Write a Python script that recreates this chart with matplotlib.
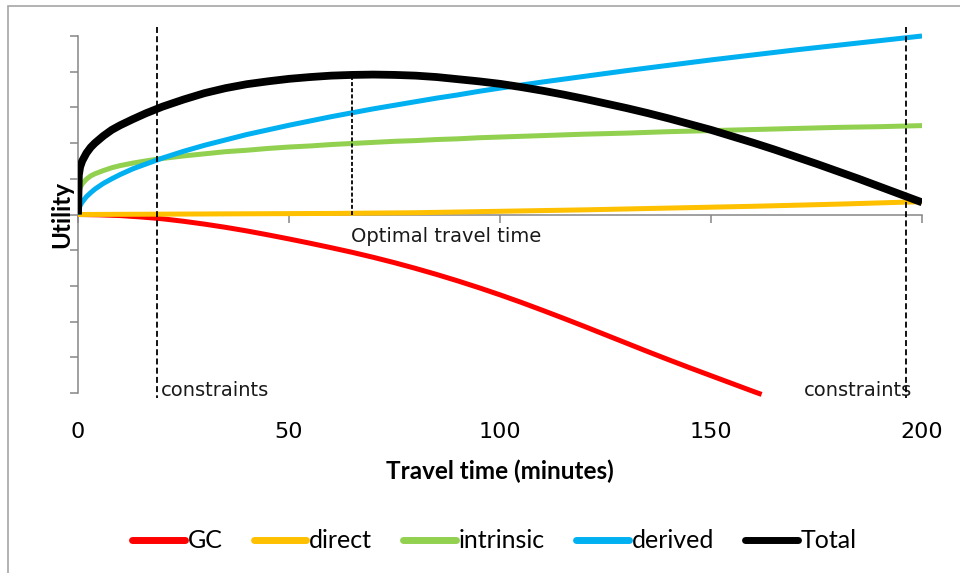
import numpy as np
import matplotlib
matplotlib.use("Agg")
import matplotlib.pyplot as plt
from matplotlib.patches import Rectangle

# values
x_gc = [0, 5, 10, 15, 20, 25, 30, 35, 40, 45, 50, 55, 60, 65, 70, 75, 80, 85, 90,
        95, 100, 105, 110, 115, 120, 125, 130, 135, 140, 145, 150, 155, 160, 162]
gc = [0, -0.01, -0.03, -0.07, -0.12, -0.19, -0.27, -0.36, -0.46, -0.57, -0.685,
      -0.805, -0.93, -1.06, -1.2, -1.35, -1.51, -1.68, -1.86, -2.05, -2.25, -2.46,
      -2.68, -2.905, -3.135, -3.37, -3.605, -3.84, -4.07, -4.295, -4.515, -4.735,
      -4.955, -5.04]

x_direct = [0, 20, 40, 60, 80, 100, 120, 140, 160, 180, 200]
direct = [0, 0.01, 0.02, 0.03, 0.05, 0.09, 0.13, 0.18, 0.23, 0.29, 0.36]

x_curve = [0, 0.2, 0.5, 1, 2, 3, 4, 6, 8, 10, 13, 16, 20, 25, 30, 35, 40, 45, 50,
           55, 60, 65, 70, 75, 80, 85, 90, 95, 100, 110, 120, 130, 140, 150, 160,
           170, 180, 190, 200]
intrinsic = [0, 0.63, 0.75, 0.86, 0.99, 1.08, 1.14, 1.23, 1.31, 1.37, 1.44, 1.50,
             1.57, 1.64, 1.70, 1.76, 1.80, 1.85, 1.89, 1.92, 1.96, 1.99, 2.02, 2.05,
             2.07, 2.10, 2.12, 2.15, 2.17, 2.21, 2.25, 2.28, 2.32, 2.35, 2.38, 2.41,
             2.44, 2.46, 2.49]
derived = [0, 0.16, 0.25, 0.35, 0.5, 0.61, 0.71, 0.87, 1.0, 1.12, 1.28, 1.41, 1.58,
           1.77, 1.94, 2.09, 2.24, 2.37, 2.5, 2.62, 2.74, 2.85, 2.96, 3.06, 3.16,
           3.26, 3.35, 3.45, 3.54, 3.71, 3.87, 4.03, 4.18, 4.33, 4.47, 4.61, 4.74,
           4.87, 5.0]

x_total = [0, 0.2, 0.5, 1, 2, 3, 4, 6, 8, 10, 13, 16, 20, 25, 30, 35, 40, 45, 50,
           55, 60, 65, 70, 75, 80, 85, 90, 95, 100, 105, 110, 115, 120, 125, 130,
           135, 140, 145, 150, 155, 160, 165, 170, 175, 180, 185, 190, 195, 200]
total = [0, 1.1, 1.33, 1.5, 1.72, 1.88, 2.0, 2.2, 2.37, 2.5, 2.67, 2.83, 3.02,
         3.22, 3.4, 3.54, 3.65, 3.73, 3.8, 3.85, 3.89, 3.91, 3.92, 3.91, 3.89,
         3.85, 3.79, 3.73, 3.66, 3.57, 3.47, 3.36, 3.24, 3.11, 2.98, 2.84, 2.69,
         2.53, 2.37, 2.19, 2.01, 1.82, 1.62, 1.42, 1.21, 1.0, 0.78, 0.56, 0.34]

constraint_left = 18.7
constraint_right = 196.2
optimal_time = 64.9
optimal_utility = 3.91

x_ticks = [0, 50, 100, 150, 200]
y_ticks = [-5, -4, -3, -2, -1, 0, 1, 2, 3, 4, 5]

fig = plt.figure(figsize=(9.6, 5.73), dpi=100)
ax = fig.add_axes([78 / 960, 1 - 410.85 / 573, 844 / 960, 11 * 35.7 / 573])
ax.set_xlim(0, 200)
ax.set_ylim(-5.5, 5.5)

# outer chart border (cut off at right and bottom)
fig.patches.append(Rectangle((8 / 960, -0.1), 1.2, 1 - 6 / 573 + 0.1,
                             transform=fig.transFigure, fill=False,
                             edgecolor="#a6a6a6", linewidth=1.2))

lw = 3.6
style = dict(solid_capstyle="butt", solid_joinstyle="round")
ax.plot(x_gc, gc, color="#ff0000", lw=lw, label="GC", zorder=3, **style)
ax.plot(x_direct, direct, color="#ffc000", lw=lw, label="direct", zorder=3, **style)
ax.plot(x_curve, intrinsic, color="#92d050", lw=lw, label="intrinsic", zorder=3, **style)
ax.plot(x_curve, derived, color="#00b0f0", lw=lw, label="derived", zorder=3, **style)
ax.plot(x_total, total, color="black", lw=5.6, label="Total", zorder=4, **style)

# dashed guide lines
for xc in [constraint_left, constraint_right]:
    ax.plot([xc, xc], [5.24, -5.15], color="black", lw=1.3,
            linestyle=(0, (3.3, 1.8)), zorder=6, clip_on=False)
ax.plot([optimal_time, optimal_time], [0, optimal_utility], color="black", lw=1.3,
        linestyle=(0, (2.2, 1.2)), zorder=6)

ax.text(optimal_time - 0.3, -0.62, "Optimal travel time", fontsize=14,
        ha="left", va="center", color="#1a1a1a")
ax.text(constraint_left + 1.0, -4.93, "constraints", fontsize=14,
        ha="left", va="center", color="#1a1a1a")
ax.text(constraint_right + 1.5, -4.93, "constraints", fontsize=14,
        ha="right", va="center", color="#1a1a1a")

# axes styling
for s in ["top", "right"]:
    ax.spines[s].set_visible(False)
ax.spines["left"].set_bounds(-5, 5)
ax.spines["bottom"].set_position(("data", 0))
for s in ["left", "bottom"]:
    ax.spines[s].set_color("#868686")
    ax.spines[s].set_linewidth(1.1)
ax.set_xticks(x_ticks)
ax.set_yticks(y_ticks)
ax.set_xticklabels([])
ax.set_yticklabels([])
ax.tick_params(axis="both", direction="out", length=6, width=1.1, color="#868686")

for xt in x_ticks:
    ax.text(xt, -0.055, str(xt), transform=ax.get_xaxis_transform(),
            fontsize=16, ha="center", va="center", color="black")

ax.text(100, -0.155, "Travel time (minutes)", transform=ax.get_xaxis_transform(),
        fontsize=17.5, fontweight="bold", family="Lato", ha="center", va="center")
fig.text(62 / 960, 1 - 214 / 573, "Utility", rotation=90, fontsize=17.5,
         fontweight="bold", family="Lato", ha="center", va="center")

leg = fig.legend(loc="center", bbox_to_anchor=(494.5 / 960, 1 - 541 / 573), ncol=5,
                 frameon=False, prop={"family": "Lato", "size": 18},
                 handlelength=2.1, handletextpad=0.12, columnspacing=1.25)
for line in leg.get_lines():
    line.set_solid_capstyle("round")
    line.set_linewidth(5)

fig.savefig("out.png", dpi=100)
